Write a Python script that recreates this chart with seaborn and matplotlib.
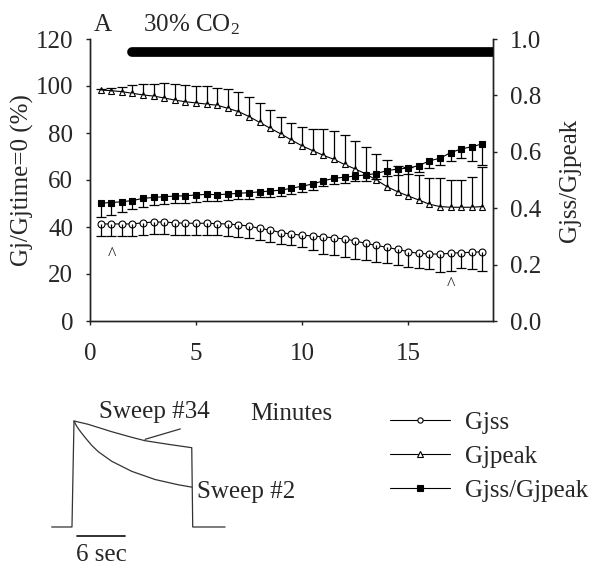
import numpy as np
import pandas as pd
import matplotlib
matplotlib.use("Agg")
import matplotlib.pyplot as plt
import seaborn as sns

# ---- time course (minutes) ----
minutes = [0.5, 1.0, 1.5, 2.0, 2.5, 3.0, 3.5, 4.0, 4.5, 5.0, 5.5, 6.0, 6.5,
           7.0, 7.5, 8.0, 8.5, 9.0, 9.5, 10.0, 10.5, 11.0, 11.5, 12.0, 12.5,
           13.0, 13.5, 14.0, 14.5, 15.0, 15.5, 16.0, 16.5, 17.0, 17.5, 18.0, 18.5]

# steady-state conductance, % of time 0 (lower SEM)
gjss = [41.3, 41.3, 41.3, 41.3, 41.8, 42.1, 42.1, 41.8, 41.6, 41.6, 41.6, 41.4, 41.3,
        40.9, 40.4, 39.4, 38.7, 37.6, 37.0, 36.5, 36.2, 35.8, 35.4, 34.9, 34.1,
        33.0, 32.2, 31.3, 30.5, 29.5, 28.8, 28.5, 28.5, 28.8, 29.1, 29.2, 29.5]
gjss_err = [5.3, 5.0, 5.0, 5.0, 5.0, 5.0, 5.0, 5.0, 5.0, 5.0, 5.0, 5.0, 5.0,
            5.0, 5.0, 5.0, 5.0, 5.0, 4.8, 5.0, 6.0, 7.1, 7.5, 7.8, 7.8,
            7.1, 7.2, 6.8, 6.7, 6.4, 6.4, 6.5, 7.5, 7.4, 6.7, 7.2, 8.1]

# peak conductance, % of time 0 (upper SEM)
gjpeak = [98.3, 98.0, 97.6, 96.9, 96.2, 95.7, 94.9, 94.0, 93.3, 92.8, 92.3, 91.8, 90.5,
          89.1, 87.0, 84.5, 82.0, 79.6, 77.0, 74.5, 72.5, 70.5, 68.8, 66.6, 64.7,
          62.6, 60.0, 57.2, 55.0, 53.2, 51.5, 49.7, 48.7, 48.4, 48.4, 48.4, 48.7]
gjpeak_err = [0.5, 1.0, 2.0, 3.5, 4.7, 5.2, 6.2, 6.7, 7.0, 7.2, 7.7, 7.4, 8.2,
              8.5, 8.5, 8.1, 7.8, 7.3, 7.1, 8.2, 9.1, 11.1, 12.2, 12.4, 12.1,
              11.3, 11.1, 11.3, 11.0, 12.5, 10.6, 11.0, 12.0, 11.6, 11.6, 12.7, 17.0]

# ratio Gjss/Gjpeak (lower SEM)
ratio = [0.418, 0.420, 0.423, 0.427, 0.435, 0.438, 0.441, 0.443, 0.444, 0.447, 0.449, 0.448, 0.450,
         0.453, 0.455, 0.458, 0.461, 0.464, 0.471, 0.478, 0.486, 0.497, 0.506, 0.510, 0.514,
         0.518, 0.523, 0.533, 0.539, 0.542, 0.551, 0.568, 0.577, 0.597, 0.610, 0.618, 0.628]
ratio_err = [0.048, 0.044, 0.036, 0.031, 0.030, 0.027, 0.025, 0.025, 0.024, 0.024, 0.023, 0.022, 0.022,
             0.021, 0.021, 0.020, 0.020, 0.020, 0.020, 0.020, 0.020, 0.020, 0.020, 0.020, 0.018,
             0.020, 0.020, 0.020, 0.022, 0.022, 0.024, 0.025, 0.025, 0.030, 0.033, 0.050, 0.074]

co2_start, co2_end, co2_level = 2.0, 19.0, 114.5
caret_x = [1.05, 17.0]
caret_y = [28.0, 15.0]

left_ticks = [0, 20, 40, 60, 80, 100, 120]
right_ticks = [0.0, 0.2, 0.4, 0.6, 0.8, 1.0]
x_ticks = [0, 5, 10, 15]

# ---- example current traces (s, normalised to peak) ----
sweep34_t = [-2.77, -0.25, 0.0, 1.74, 4.68, 7.17, 8.82, 11.7, 14.62, 14.74, 18.76]
sweep34_i = [0.0, 0.0, 1.0, 0.969, 0.899, 0.846, 0.814, 0.780, 0.748, 0.0, 0.0]
sweep2_t = [0.0, 0.3, 0.7, 1.37, 2.2, 3.02, 4.68, 7.17, 10.06, 12.96, 14.62]
sweep2_i = [1.0, 0.955, 0.91, 0.845, 0.77, 0.71, 0.62, 0.525, 0.448, 0.398, 0.376]
scale_sec = 6.0

sns.set_style("ticks")
plt.rcParams["font.family"] = ["Liberation Serif", "DejaVu Serif"]
plt.rcParams["mathtext.fontset"] = "custom"
plt.rcParams["mathtext.rm"] = "Liberation Serif"
plt.rcParams["mathtext.it"] = "Liberation Serif:italic"
FS = 18

df = pd.DataFrame({"Minutes": minutes, "Gjss": gjss, "Gjpeak": gjpeak,
                   "Gjss/Gjpeak": ratio})

fig = plt.figure(figsize=(6.01, 5.66), dpi=100)
ax = fig.add_axes([90 / 601, 1 - 321 / 566, 403 / 601, 282 / 566])
ax2 = ax.twinx()

line_kw = dict(color="black", lw=0.8, markeredgecolor="black", markeredgewidth=0.8)
sns.lineplot(data=df, x="Minutes", y="Gjss", ax=ax, marker="o", markersize=5,
             markerfacecolor="white", label="Gjss", legend=False, **line_kw)
sns.lineplot(data=df, x="Minutes", y="Gjpeak", ax=ax, marker="^", markersize=4.5,
             markerfacecolor="white", label="Gjpeak", legend=False, **line_kw)
sns.lineplot(data=df, x="Minutes", y="Gjss/Gjpeak", ax=ax2, marker="s", markersize=5,
             markerfacecolor="black", label="Gjss/Gjpeak", legend=False, **line_kw)


def one_sided(axis, y, err, below):
    y = np.asarray(y)
    err = np.asarray(err)
    zeros = np.zeros_like(err)
    yerr = [err, zeros] if below else [zeros, err]
    eb = axis.errorbar(minutes, y, yerr=yerr, fmt="none", ecolor="black",
                       elinewidth=0.9, capsize=3.8, capthick=0.9)
    for cap in eb[1]:
        if np.allclose(cap.get_ydata(), y):
            cap.set_visible(False)


one_sided(ax, gjss, gjss_err, below=True)
one_sided(ax, gjpeak, gjpeak_err, below=False)
one_sided(ax2, ratio, ratio_err, below=True)

ax.set_xlim(0, 19)
ax.set_ylim(0, 120)
ax2.set_ylim(0, 1.0)
ax.set_xticks(x_ticks)
ax.set_yticks(left_ticks)
ax2.set_yticks(right_ticks)
ax2.set_yticklabels([f"{v:.1f}" for v in right_ticks])

# exposure bar
ax.plot([co2_start, co2_end], [co2_level, co2_level], color="black", lw=7,
        solid_capstyle="round", zorder=5)
ax.text(0.2, 126, "A", fontsize=FS, va="center", ha="left")
ax.text(4.8, 126, "30% CO$_2$", fontsize=FS, va="center", ha="center")
for cx, cy in zip(caret_x, caret_y):
    ax.text(cx, cy, "^", fontsize=13, ha="center", va="center")

for a in (ax, ax2):
    for s in a.spines.values():
        s.set_linewidth(1.0)
        s.set_color("#222222")
    a.tick_params(labelsize=FS, length=3, width=1.0, color="#222222")
ax.spines["top"].set_visible(False)
ax2.spines["top"].set_visible(False)
ax.tick_params(axis="y", pad=9)
ax.tick_params(axis="x", pad=13)
ax2.tick_params(axis="y", pad=9)

ax.set_xlabel("Minutes", fontsize=FS, labelpad=27)
ax.set_ylabel("Gj/Gjtime=0 (%)", fontsize=FS)
ax2.set_ylabel("Gjss/Gjpeak", fontsize=FS)
ax.yaxis.set_label_coords(-0.14, 0.5)
ax2.yaxis.set_label_coords(1.163, 0.5)

h1, l1 = ax.get_legend_handles_labels()
h2, l2 = ax2.get_legend_handles_labels()
leg = fig.legend(h1 + h2, l1 + l2, loc="upper left",
                 bbox_to_anchor=(390 / 601, 1 - 411 / 566), frameon=False,
                 fontsize=FS, handlelength=2.4, handletextpad=0.6,
                 labelspacing=0.47, borderpad=0, borderaxespad=0)
for lh in leg.legend_handles:
    lh.set_markersize(3.8)

# inset: example current traces
ins = fig.add_axes([40 / 601, 0, 270 / 601, 166 / 566])
trace_kw = dict(color="#333333", lw=0.9)
sns.lineplot(x=sweep34_t, y=sweep34_i, ax=ins, sort=False, estimator=None, **trace_kw)
sns.lineplot(x=sweep2_t, y=sweep2_i, ax=ins, sort=False, estimator=None, **trace_kw)
ins.plot([8.82, 13.2], [0.827, 0.925], **trace_kw)
ins.plot([0.33, 0.33 + scale_sec], [-0.082, -0.082], color="#222222", lw=1.3)
ins.text(3.1, 1.085, "Sweep #34", fontsize=FS, ha="left", va="center")
ins.text(15.3, 0.33, "Sweep #2", fontsize=FS, ha="left", va="center")
ins.text(3.4, -0.26, f"{scale_sec:.0f} sec", fontsize=FS, ha="center", va="center")
ins.set_xlim(-4.22, 29.3)
ins.set_ylim(-0.368, 1.198)
ins.axis("off")

fig.savefig("out.png", dpi=100)
